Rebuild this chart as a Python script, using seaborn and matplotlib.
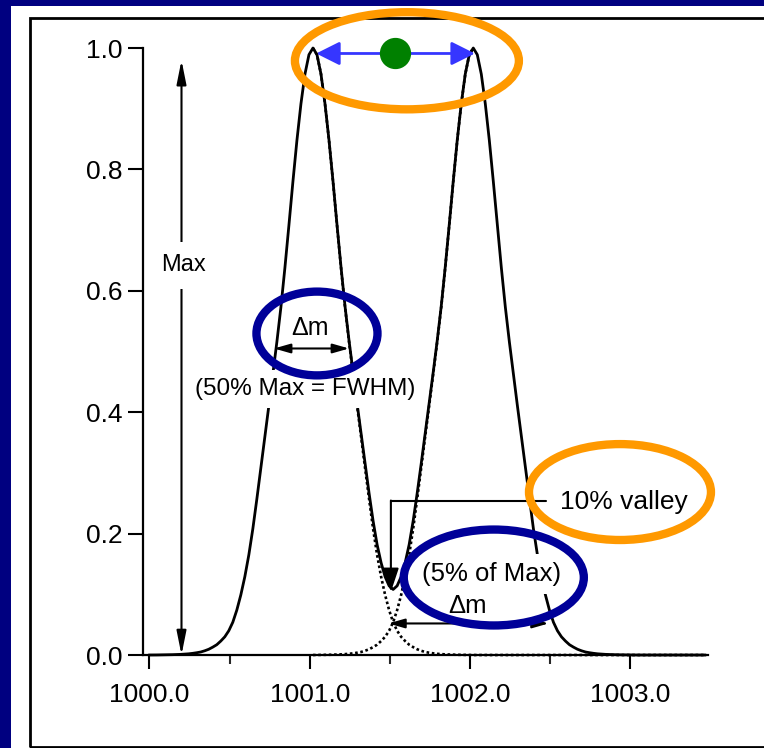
import numpy as np
import pandas as pd
import matplotlib
matplotlib.use("Agg")
import matplotlib.pyplot as plt
import seaborn as sns
from matplotlib.patches import Ellipse, Rectangle

# one peak: height against distance from the apex (mass units)
profile_offset = [0.000, 0.025, 0.050, 0.075, 0.100, 0.125, 0.150, 0.175, 0.200, 0.225,
                  0.250, 0.275, 0.300, 0.325, 0.350, 0.375, 0.400, 0.425, 0.450, 0.475,
                  0.500, 0.525, 0.550, 0.575, 0.600, 0.625, 0.650, 0.675, 0.700, 0.725,
                  0.750, 0.775, 0.800, 0.825, 0.850, 0.875, 0.900, 0.925, 0.950, 0.975,
                  1.000]
profile_height = [1.000, 0.989, 0.957, 0.908, 0.848, 0.780, 0.708, 0.638, 0.573, 0.516,
                  0.463, 0.411, 0.360, 0.308, 0.257, 0.208, 0.165, 0.129, 0.099, 0.074,
                  0.054, 0.040, 0.030, 0.023, 0.017, 0.013, 0.0095, 0.007, 0.005, 0.0038,
                  0.0028, 0.002, 0.0015, 0.0011, 0.0008, 0.0006, 0.0004, 0.0003, 0.0002, 0.0001,
                  0.0]
peak_centres = [1001.02, 1002.02]

x_major = [1000.0, 1001.0, 1002.0, 1003.0]
x_minor = [1000.5, 1001.5, 1002.5]
y_ticks = [0.0, 0.2, 0.4, 0.6, 0.8, 1.0]

NAVY_BG = "#000080"
ORANGE = "#FF9900"
NAVY = "#000099"
ARROW_BLUE = "#3636FF"
GREEN = "#008000"


def build_frames():
    """Sum of the two peaks plus the two single peaks, on a shared grid."""
    step = profile_offset[1] - profile_offset[0]
    n = len(profile_height)
    sep = int(round((peak_centres[1] - peak_centres[0]) / step))

    def h(k):
        k = abs(k)
        return profile_height[k] if k < n else 0.0

    def pos(k):
        return peak_centres[0] + k * step

    ks = range(-41, 99)
    total = pd.DataFrame({"mass": [pos(k) for k in ks],
                          "signal": [h(k) + h(k - sep) for k in ks]})
    left = pd.DataFrame({"mass": [pos(k) for k in range(0, 99)],
                         "signal": [h(k) for k in range(0, 99)]})
    right = pd.DataFrame({"mass": [pos(k) for k in range(0, sep + 1)],
                          "signal": [h(k - sep) for k in range(0, sep + 1)]})
    return total, left, right


sns.set_theme(style="ticks")
plt.rcParams["font.family"] = ["Liberation Sans", "DejaVu Sans"]

fig = plt.figure(figsize=(7.64, 7.48), dpi=100, facecolor=NAVY_BG)

# white sheet and the scanned frame line
fig.patches.append(Rectangle((0.0144, 0.0), 1.0, 0.992, transform=fig.transFigure,
                             facecolor="white", edgecolor="none", zorder=-3))
fig.patches.append(Rectangle((0.0393, 0.0013), 1.0, 0.9747, transform=fig.transFigure,
                             facecolor="none", edgecolor="black", lw=2, zorder=-2))

ax = fig.add_axes([0.1872, 0.1243, 0.7395, 0.8115])
ax.set_facecolor("none")

total, left, right = build_frames()
dots = (0, (1, 1))
sns.lineplot(data=left, x="mass", y="signal", ax=ax, color="black", lw=1.9,
             linestyle=dots, zorder=2, clip_on=False)
sns.lineplot(data=right, x="mass", y="signal", ax=ax, color="black", lw=1.9,
             linestyle=dots, zorder=2, clip_on=False)
sns.lineplot(data=total, x="mass", y="signal", ax=ax, color="black", lw=2.0,
             zorder=3, clip_on=False)

ax.set_xlim(999.96, 1003.484)
ax.set_ylim(0, 1.0)
ax.set_xticks(x_major)
ax.set_xticklabels([f"{v:.1f}" for v in x_major])
ax.set_xticks(x_minor, minor=True)
ax.set_yticks(y_ticks)
ax.set_yticklabels([f"{v:.1f}" for v in y_ticks])
ax.set_xlabel("")
ax.set_ylabel("")
sns.despine(ax=ax)
for s in ("left", "bottom"):
    ax.spines[s].set_linewidth(1.6)
    ax.spines[s].set_color("black")
ax.tick_params(axis="x", which="major", direction="out", length=10, width=1.5,
               pad=10, labelsize=19, colors="black")
ax.tick_params(axis="x", which="minor", direction="out", length=6.5, width=1.5)
ax.tick_params(axis="y", direction="out", length=11, width=1.5, pad=4,
               labelsize=19, colors="black")

# --- annotations -----------------------------------------------------------
txt = dict(color="black", ha="center", va="center", zorder=5)
white = dict(facecolor="white", edgecolor="none", pad=6)

# Max arrow
ax.annotate("", xy=(1000.2, 0.0), xytext=(1000.2, 0.98),
            arrowprops=dict(arrowstyle="<|-|>,head_length=0.9,head_width=0.18",
                            color="black", lw=1.5, shrinkA=0, shrinkB=0,
                            mutation_scale=16), zorder=4, annotation_clip=False)
ax.text(1000.21, 0.642, "Max", fontsize=17, bbox=dict(white, pad=9), **txt)

# FWHM
ax.annotate("", xy=(1000.777, 0.505), xytext=(1001.245, 0.505),
            arrowprops=dict(arrowstyle="<|-|>,head_length=0.7,head_width=0.2",
                            color="black", lw=1.5, shrinkA=0, shrinkB=0,
                            mutation_scale=14), zorder=4)
ax.text(1001.0, 0.538, "Δm", fontsize=18, **txt)
ax.text(1000.97, 0.438, "(50% Max = FWHM)", fontsize=17.5, bbox=white, **txt)

# 10 % valley bracket
ax.plot([1002.474, 1001.506], [0.2545, 0.2545], color="black", lw=1.5, zorder=4)
ax.annotate("", xy=(1001.506, 0.104), xytext=(1001.506, 0.2545),
            arrowprops=dict(arrowstyle="-|>,head_length=0.9,head_width=0.3",
                            color="black", lw=1.5, shrinkA=0, shrinkB=0,
                            mutation_scale=16), zorder=4)
ax.text(1002.96, 0.252, "10% valley", fontsize=19, **txt)

# 5 % of max
ax.annotate("", xy=(1001.49, 0.052), xytext=(1002.49, 0.052),
            arrowprops=dict(arrowstyle="<|-|>,head_length=0.7,head_width=0.2",
                            color="black", lw=1.5, shrinkA=0, shrinkB=0,
                            mutation_scale=14), zorder=4)
ax.text(1002.137, 0.1334, "(5% of Max)", fontsize=18.5, bbox=white, **txt)
ax.text(1001.984, 0.0807, "Δm", fontsize=18.5, **txt)

# resolution arrows between the apexes
dot_x, dot_y = 1001.533, 0.991
for tip in (1001.04, 1002.03):
    ax.annotate("", xy=(tip, dot_y), xytext=(dot_x, dot_y),
                arrowprops=dict(arrowstyle="-|>,head_length=0.8,head_width=0.4",
                                color=ARROW_BLUE, lw=2, shrinkA=0, shrinkB=0,
                                mutation_scale=18), zorder=6, annotation_clip=False)
ax.plot([dot_x], [dot_y], "o", ms=21.5, color=GREEN, zorder=7, clip_on=False)

# highlight ellipses
rings = [
    ((1001.606, 0.979), 1.397, 0.160, ORANGE),
    ((1001.045, 0.5297), 0.755, 0.138, NAVY),
    ((1002.148, 0.1277), 1.123, 0.158, NAVY),
    ((1002.935, 0.2685), 1.135, 0.158, ORANGE),
]
for centre, w, h, col in rings:
    ax.add_patch(Ellipse(centre, w, h, facecolor="none", edgecolor=col, lw=6,
                         zorder=8, clip_on=False))

fig.savefig("out.png", dpi=100, facecolor=NAVY_BG)
